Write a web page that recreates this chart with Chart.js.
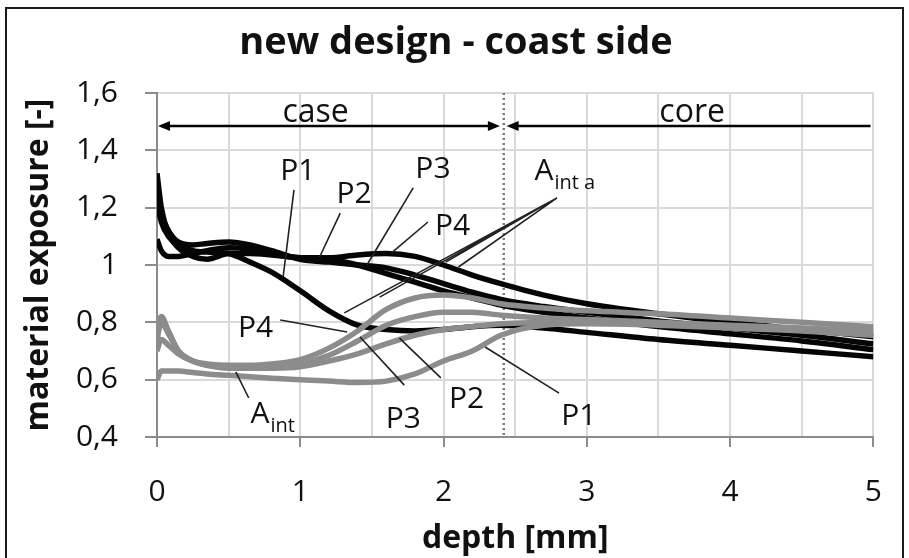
<!DOCTYPE html>
<html>
<head>
<meta charset="utf-8">
<script src="https://cdn.jsdelivr.net/npm/chart.js@4.4.1/dist/chart.umd.min.js"></script>
<style>
  html, body { margin: 0; padding: 0; background: #fff; }
  #wrap { width: 909px; height: 558px; }
</style>
</head>
<body>
<div id="wrap"><canvas id="chart" width="909" height="558"></canvas></div>
<script>
// depth positions shared by every profile [mm]
const depth = [0, 0.03, 0.08, 0.15, 0.25, 0.35, 0.5, 0.65, 0.8, 1.0, 1.2, 1.4, 1.6, 1.8, 2.0, 2.2, 2.4, 2.7, 3.0, 3.5, 4.0, 4.5, 5.0];

// material exposure, A_int a (black)
const aIntP1 = [1.22, 1.15, 1.10, 1.07, 1.05, 1.045, 1.04, 1.01, 0.975, 0.91, 0.84, 0.79, 0.775, 0.77, 0.775, 0.785, 0.79, 0.78, 0.765, 0.74, 0.72, 0.70, 0.68];
const aIntP2 = [1.32, 1.20, 1.11, 1.06, 1.03, 1.02, 1.04, 1.04, 1.035, 1.025, 1.02, 1.00, 0.97, 0.94, 0.91, 0.885, 0.86, 0.835, 0.815, 0.785, 0.76, 0.735, 0.705];
const aIntP3 = [1.28, 1.18, 1.12, 1.08, 1.07, 1.075, 1.08, 1.07, 1.05, 1.02, 1.01, 1.00, 0.99, 0.965, 0.935, 0.905, 0.88, 0.855, 0.835, 0.805, 0.78, 0.755, 0.725];
const aIntP4 = [1.09, 1.05, 1.03, 1.03, 1.04, 1.05, 1.06, 1.055, 1.04, 1.025, 1.025, 1.035, 1.04, 1.03, 1.00, 0.965, 0.935, 0.895, 0.865, 0.83, 0.80, 0.775, 0.75];

// material exposure, A_int (grey)
const intP1 = [0.60, 0.63, 0.63, 0.63, 0.625, 0.62, 0.615, 0.61, 0.605, 0.60, 0.595, 0.59, 0.595, 0.62, 0.665, 0.70, 0.755, 0.79, 0.795, 0.79, 0.78, 0.77, 0.755];
const intP2 = [0.70, 0.74, 0.72, 0.69, 0.665, 0.65, 0.64, 0.64, 0.64, 0.645, 0.665, 0.69, 0.725, 0.755, 0.775, 0.785, 0.795, 0.80, 0.805, 0.795, 0.785, 0.775, 0.765];
const intP3 = [0.74, 0.80, 0.76, 0.70, 0.665, 0.65, 0.645, 0.645, 0.645, 0.655, 0.685, 0.735, 0.79, 0.82, 0.835, 0.835, 0.825, 0.815, 0.81, 0.80, 0.79, 0.78, 0.77];
const intP4 = [0.78, 0.82, 0.77, 0.70, 0.665, 0.655, 0.65, 0.65, 0.655, 0.67, 0.71, 0.77, 0.845, 0.885, 0.895, 0.885, 0.865, 0.85, 0.84, 0.83, 0.815, 0.80, 0.785];

const xTickLabels = ['0', '', '1', '', '2', '', '3', '', '4', '', '5'];
const yTickLabels = ['0,4', '0,6', '0,8', '1', '1,2', '1,4', '1,6'];

// case / core boundary [mm]
const caseDepth = 2.42;

// callout texts: [text, x, baseline y]
const blackLabels = [['P1', 0.983, 1.296], ['P2', 1.375, 1.216], ['P3', 1.926, 1.303], ['P4', 2.063, 1.105]];
const greyLabels  = [['P4', 0.688, 0.749], ['P3', 1.719, 0.431], ['P2', 2.16, 0.501], ['P1', 2.944, 0.442]];

// leader lines: [x1, y1, x2, y2]
const leaders = [
  [0.956, 1.262, 0.880, 0.958], [1.279, 1.181, 1.135, 1.028],
  [1.788, 1.269, 1.465, 1.000], [1.891, 1.150, 1.637, 1.042],
  [2.792, 1.234, 1.307, 0.833], [2.792, 1.234, 1.554, 0.888],
  [2.792, 1.234, 2.015, 1.010], [2.792, 1.234, 2.104, 0.993],
  [0.860, 0.808, 1.327, 0.766], [1.726, 0.581, 1.417, 0.749],
  [1.981, 0.606, 1.692, 0.745], [2.806, 0.553, 2.290, 0.714],
  [0.640, 0.536, 0.550, 0.627]
];

const FONT = "'Open Sans', sans-serif";
const BLACK = '#050505';
const GREY = '#8c8c8c';

function series(label, values, color) {
  return {
    label,
    data: depth.map((d, i) => ({ x: d, y: values[i] })),
    borderColor: color,
    borderWidth: 5.5,
    pointRadius: 0,
    cubicInterpolationMode: 'monotone',
    fill: false,
  };
}

function arrowHead(ctx, x, y, dir) {
  ctx.beginPath();
  ctx.moveTo(x, y);
  ctx.lineTo(x - dir * 12, y - 5);
  ctx.lineTo(x - dir * 12, y + 5);
  ctx.closePath();
  ctx.fill();
}

const decorations = {
  id: 'decorations',
  beforeDraw(chart) {
    const ctx = chart.ctx;
    ctx.save();
    ctx.fillStyle = '#fff';
    ctx.fillRect(0, 0, chart.width, chart.height);
    ctx.restore();
  },
  beforeDatasetsDraw(chart) {
    const { ctx, scales: { x, y } } = chart;
    // case / core boundary
    ctx.save();
    ctx.strokeStyle = '#7a7a7a';
    ctx.lineWidth = 2.5;
    ctx.setLineDash([2, 3]);
    ctx.beginPath();
    ctx.moveTo(x.getPixelForValue(caseDepth), y.getPixelForValue(1.6));
    ctx.lineTo(x.getPixelForValue(caseDepth), y.getPixelForValue(0.4));
    ctx.stroke();
    ctx.restore();
  },
  afterDraw(chart) {
    const { ctx, scales: { x, y } } = chart;
    const px = v => x.getPixelForValue(v);
    const py = v => y.getPixelForValue(v);
    ctx.save();

    // outer frame
    ctx.strokeStyle = '#1a1a1a';
    ctx.lineWidth = 2;
    ctx.strokeRect(6, 8, 897, 560);

    // title
    ctx.fillStyle = '#111';
    ctx.textAlign = 'center';
    ctx.textBaseline = 'alphabetic';
    ctx.font = `bold 38px ${FONT}`;
    ctx.fillText('new design - coast side', 456, 54);

    // case / core arrows
    const ay = py(1.485);
    ctx.strokeStyle = BLACK;
    ctx.fillStyle = BLACK;
    ctx.lineWidth = 2.5;
    ctx.beginPath();
    ctx.moveTo(px(0) + 4, ay);
    ctx.lineTo(px(2.393) - 4, ay);
    ctx.moveTo(px(2.44) + 4, ay);
    ctx.lineTo(px(4.98), ay);
    ctx.stroke();
    arrowHead(ctx, px(0) + 1, ay, -1);
    arrowHead(ctx, px(2.393), ay, 1);
    arrowHead(ctx, px(2.44), ay, -1);

    ctx.fillStyle = '#111';
    ctx.font = `32px ${FONT}`;
    ctx.fillText('case', px(1.107), py(1.499));
    ctx.fillText('core', px(3.735), py(1.499));

    // leader lines
    ctx.strokeStyle = '#222';
    ctx.lineWidth = 1.6;
    ctx.beginPath();
    leaders.forEach(([x1, y1, x2, y2]) => {
      ctx.moveTo(px(x1), py(y1));
      ctx.lineTo(px(x2), py(y2));
    });
    ctx.stroke();

    // callout texts
    ctx.font = `30px ${FONT}`;
    [...blackLabels, ...greyLabels].forEach(([t, lx, ly]) => {
      ctx.fillText(t, px(lx), py(ly));
    });

    // A_int a and A_int, with subscripts
    ctx.textAlign = 'left';
    const sub = (base, subText, lx, ly) => {
      ctx.font = `30px ${FONT}`;
      ctx.fillText(base, px(lx), py(ly));
      const w = ctx.measureText(base).width;
      ctx.font = `20px ${FONT}`;
      ctx.fillText(subText, px(lx) + w + 1, py(ly) + 9);
    };
    sub('A', 'int a', 2.634, 1.296);
    sub('A', 'int', 0.653, 0.449);

    ctx.restore();
  }
};

new Chart(document.getElementById('chart'), {
  type: 'line',
  data: {
    datasets: [
      series('A_int P1', intP1, GREY),
      series('A_int P2', intP2, GREY),
      series('A_int P3', intP3, GREY),
      series('A_int P4', intP4, GREY),
      series('A_int a P1', aIntP1, BLACK),
      series('A_int a P2', aIntP2, BLACK),
      series('A_int a P3', aIntP3, BLACK),
      series('A_int a P4', aIntP4, BLACK),
    ],
  },
  options: {
    responsive: false,
    animation: false,
    devicePixelRatio: 1,
    layout: { padding: { top: 93, right: 25, left: 0, bottom: 0 } },
    plugins: { legend: { display: false }, tooltip: { enabled: false }, title: { display: false } },
    scales: {
      x: {
        type: 'linear',
        min: 0,
        max: 5,
        afterFit: s => { s.height = 121; },
        ticks: {
          stepSize: 0.5,
          autoSkip: false,
          maxRotation: 0,
          padding: 27,
          color: '#111',
          font: { family: FONT, size: 30 },
          callback: (v, i) => xTickLabels[i],
        },
        grid: {
          color: '#d9d9d9',
          lineWidth: 2,
          tickLength: 10,
          tickWidth: 2,
          tickColor: c => (c.index % 2 === 0 ? '#8c8c8c' : 'rgba(0,0,0,0)'),
        },
        border: { color: '#8c8c8c', width: 2 },
        title: {
          display: true,
          text: 'depth [mm]',
          color: '#111',
          font: { family: FONT, size: 32, weight: 'bold' },
          padding: { top: 0, bottom: 0 },
        },
      },
      y: {
        min: 0.4,
        max: 1.6,
        afterFit: s => { s.width = 157; },
        ticks: {
          stepSize: 0.2,
          padding: 27,
          color: '#111',
          font: { family: FONT, size: 30 },
          callback: (v, i) => yTickLabels[i],
        },
        grid: {
          color: '#d9d9d9',
          lineWidth: 2,
          tickLength: 12,
          tickWidth: 2,
          tickColor: '#8c8c8c',
        },
        border: { color: '#8c8c8c', width: 2 },
        title: {
          display: true,
          text: 'material exposure [-]',
          color: '#111',
          font: { family: FONT, size: 32, weight: 'bold' },
          padding: { top: 20, bottom: 0 },
        },
      },
    },
  },
  plugins: [decorations],
});
</script>
</body>
</html>
